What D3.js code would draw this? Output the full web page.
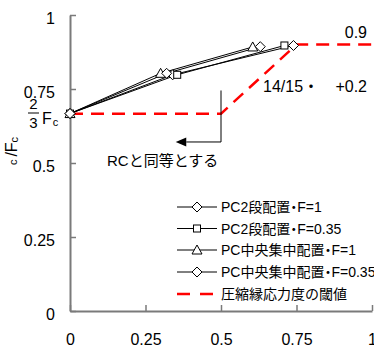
<!DOCTYPE html>
<html>
<head>
<meta charset="utf-8">
<script src="https://cdn.jsdelivr.net/npm/d3@7"></script>
<style>
  body { margin: 0; background: #fff; }
  text { font-family: "Liberation Sans", Arial, "Noto Sans CJK JP", sans-serif; fill: #000; }
</style>
</head>
<body>
<div id="chart"></div>
<script>
// ---- DATA ----------------------------------------------------------
var xTicks = [0, 0.25, 0.5, 0.75, 1];
var yTicks = [0, 0.25, 0.5, 0.75, 1];

var seriesNames = ["PC2段配置・F=1", "PC2段配置・F=0.35", "PC中央集中配置・F=1", "PC中央集中配置・F=0.35"];
var seriesMarkers = ["diamond", "square", "triangle", "diamond"];

var pc2F1 = [[0, 0.667], [0.34, 0.798], [0.74, 0.897]];
var pc2F035 = [[0, 0.667], [0.355, 0.798], [0.71, 0.897]];
var pcCenterF1 = [[0, 0.667], [0.30, 0.803], [0.605, 0.892]];
var pcCenterF035 = [[0, 0.667], [0.32, 0.803], [0.63, 0.893]];

var threshold = [[0, 2 / 3], [0.5, 2 / 3], [0.75, 0.9], [1, 0.9]];
var thresholdName = "圧縮縁応力度の閾値";

// ---- SETUP ---------------------------------------------------------
var w = 374, h = 353;
var x = d3.scaleLinear().domain([0, 1]).range([70, 372]);
var y = d3.scaleLinear().domain([0, 1]).range([311, 15]);

var svg = d3.select("#chart").append("svg")
  .attr("width", w).attr("height", h);

// axes
var axisColor = "#7a7a7a";
var gy = svg.append("g")
  .attr("transform", "translate(" + x(0) + ",0)")
  .call(d3.axisLeft(y).tickValues(yTicks).tickSize(-6).tickSizeOuter(0).tickPadding(15)
    .tickFormat(function(d) { return d3.format("")(d); }));
var gx = svg.append("g")
  .attr("transform", "translate(0," + y(0) + ")")
  .call(d3.axisBottom(x).tickValues(xTicks).tickSize(-6).tickSizeOuter(0).tickPadding(23)
    .tickFormat(function(d) { return d3.format("")(d); }));

[gx, gy].forEach(function(g) {
  g.select(".domain").attr("stroke", axisColor).attr("stroke-width", 2);
  g.selectAll(".tick line").attr("stroke", axisColor).attr("stroke-width", 1.5);
  g.selectAll(".tick text").attr("font-size", "16px")
    .attr("font-family", "'Liberation Sans', Arial, sans-serif");
});
gy.selectAll(".tick text").attr("dy", "8");

// 2/3 Fc label on y axis
var frac = svg.append("g").attr("font-size", "15px");
frac.append("text").attr("x", 33.5).attr("y", 109).attr("text-anchor", "middle").text("2");
frac.append("text").attr("x", 33.5).attr("y", 128).attr("text-anchor", "middle").text("3");
frac.append("line").attr("x1", 28).attr("x2", 39).attr("y1", 113).attr("y2", 113)
  .attr("stroke", "#000").attr("stroke-width", 1);
svg.append("text").attr("x", 42).attr("y", 124).attr("font-size", "16px").text("F")
  .append("tspan").attr("font-size", "11px").attr("dx", 1).attr("dy", 2).text("c");

// y axis title (sigma is missing in the original)
var yt = svg.append("text")
  .attr("transform", "translate(17,151) rotate(-90)")
  .attr("text-anchor", "middle")
  .attr("font-size", "16px");
yt.append("tspan").attr("font-size", "11px").text("c");
yt.append("tspan").attr("dx", 3).text("/F");
yt.append("tspan").attr("font-size", "11px").attr("dy", 1).text("c");

// ---- THRESHOLD -----------------------------------------------------
var line = d3.line().x(function(d) { return x(d[0]); }).y(function(d) { return y(d[1]); });

svg.append("path").datum(threshold)
  .attr("d", line)
  .attr("fill", "none").attr("stroke", "#ff0000")
  .attr("stroke-width", 2.5).attr("stroke-dasharray", "13,8");

// ---- SERIES --------------------------------------------------------
var allSeries = [pc2F1, pc2F035, pcCenterF1, pcCenterF035];

function drawMarker(g, type, cx, cy) {
  if (type === "diamond") {
    g.append("path").attr("d", "M" + cx + "," + (cy - 5) + "L" + (cx + 5) + "," + cy +
      "L" + cx + "," + (cy + 5) + "L" + (cx - 5) + "," + cy + "Z")
      .attr("fill", "#fff").attr("stroke", "#000").attr("stroke-width", 1);
  } else if (type === "square") {
    g.append("rect").attr("x", cx - 3.5).attr("y", cy - 3.5).attr("width", 7).attr("height", 7)
      .attr("fill", "#fff").attr("stroke", "#000").attr("stroke-width", 1);
  } else {
    g.append("path").attr("d", "M" + cx + "," + (cy - 5) + "L" + (cx + 5) + "," + (cy + 4) +
      "L" + (cx - 5) + "," + (cy + 4) + "Z")
      .attr("fill", "#fff").attr("stroke", "#000").attr("stroke-width", 1);
  }
}

allSeries.forEach(function(s, i) {
  svg.append("path").datum(s)
    .attr("d", line)
    .attr("fill", "none").attr("stroke", "#000").attr("stroke-width", 1);
});
allSeries.forEach(function(s, i) {
  var g = svg.append("g");
  s.forEach(function(d) {
    drawMarker(g, seriesMarkers[i], x(d[0]), y(d[1]));
  });
});

// ---- ANNOTATIONS ---------------------------------------------------
svg.append("text").attr("x", 367).attr("y", 38).attr("text-anchor", "end")
  .attr("font-size", "16px").text("0.9");
svg.append("text").attr("x", 263).attr("y", 92).attr("font-size", "16px").text("14/15・");
svg.append("text").attr("x", 367).attr("y", 92).attr("text-anchor", "end")
  .attr("font-size", "16px").text("+0.2");

// arrow RC
svg.append("path")
  .attr("d", "M" + x(0.5) + "," + y(0.745) + "V" + y(0.571) + "H" + x(0.385))
  .attr("fill", "none").attr("stroke", "#000").attr("stroke-width", 1);
svg.append("path")
  .attr("d", "M" + x(0.35) + "," + y(0.571) + "L" + x(0.385) + "," + (y(0.571) - 4.5) +
    "L" + x(0.385) + "," + (y(0.571) + 4.5) + "Z")
  .attr("fill", "#000");
svg.append("text").attr("x", 107).attr("y", 166).attr("font-size", "15px").text("RCと同等とする");

// ---- LEGEND --------------------------------------------------------
var legendY = [207, 228.5, 250, 272, 294];
var lg = svg.append("g");
seriesNames.forEach(function(name, i) {
  lg.append("line").attr("x1", 177).attr("x2", 217).attr("y1", legendY[i]).attr("y2", legendY[i])
    .attr("stroke", "#000").attr("stroke-width", 1);
  drawMarker(lg, seriesMarkers[i], 197, legendY[i]);
  // the middle dot is set narrow, as in the original
  var parts = name.split("・");
  var t = lg.append("text").attr("x", 221).attr("y", legendY[i] + 5).attr("font-size", "14px");
  t.append("tspan").text(parts[0]);
  t.append("tspan").attr("dx", -3.5).text("・");
  t.append("tspan").attr("dx", -3.5).text(parts[1]);
});
lg.append("line").attr("x1", 177).attr("x2", 213).attr("y1", legendY[4]).attr("y2", legendY[4])
  .attr("stroke", "#ff0000").attr("stroke-width", 2.5).attr("stroke-dasharray", "13,10");
lg.append("text").attr("x", 221).attr("y", legendY[4] + 5).attr("font-size", "14px").text(thresholdName);
</script>
</body>
</html>
